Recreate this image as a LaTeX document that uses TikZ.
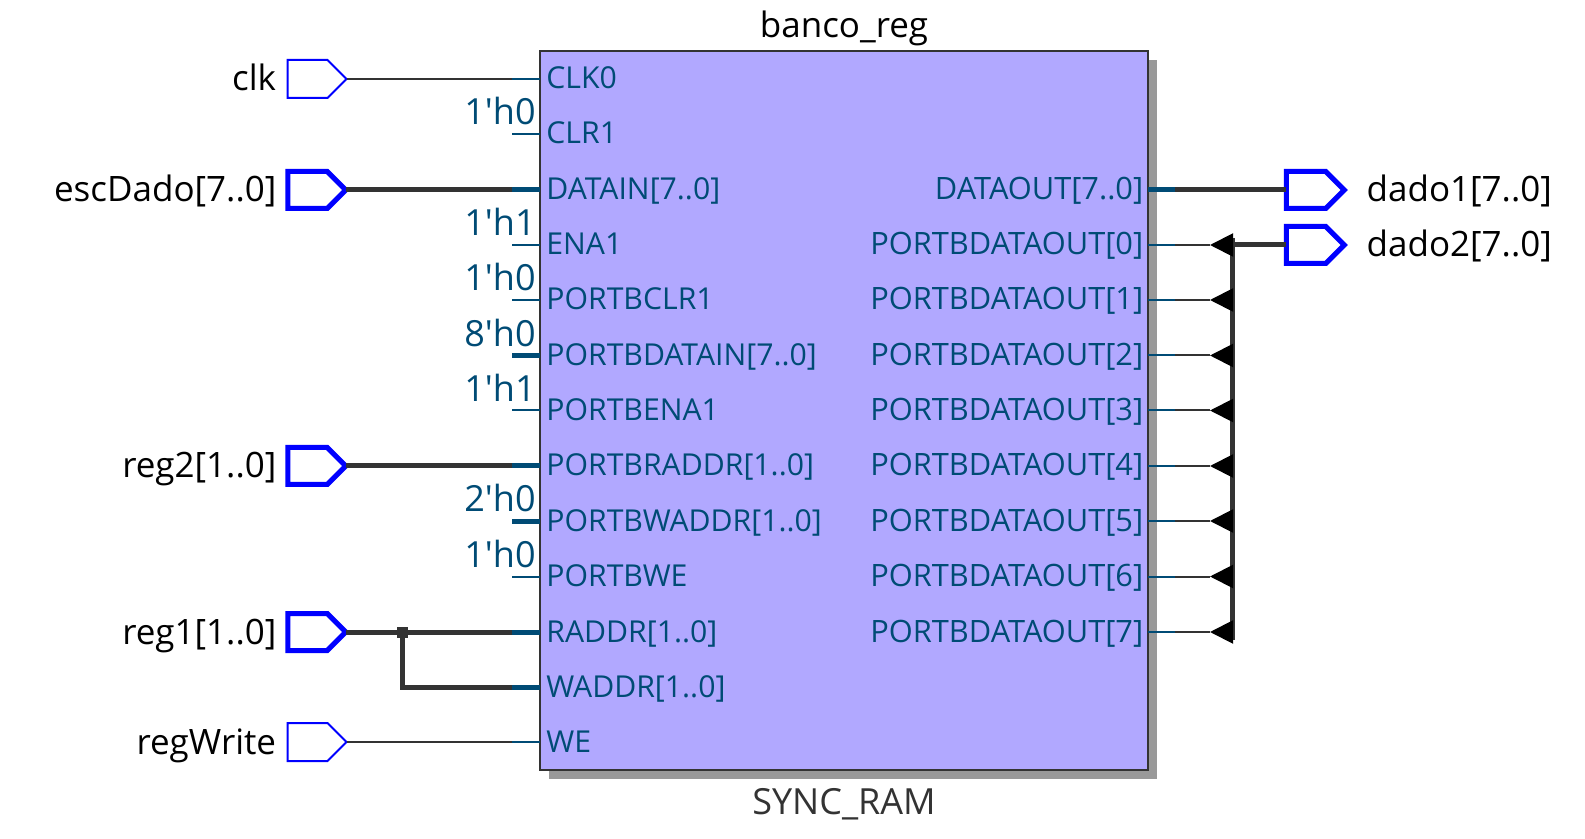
\documentclass[tikz,border=0pt]{standalone}
\usepackage{fontspec}
\setmainfont{Open Sans}
\usetikzlibrary{arrows.meta, positioning, shapes.symbols}

\definecolor{portcol}{HTML}{004B75}
\definecolor{wirecol}{HTML}{333333}
\definecolor{blockcol}{HTML}{B1A8FF}
\definecolor{shadowcol}{HTML}{999999}

\begin{document}
\begin{tikzpicture}[
  x=0.5pt, y=-0.5pt,
  node distance=5pt,
  block/.style={draw=wirecol, line width=1pt, fill=blockcol, rectangle, minimum width=304pt, minimum height=359.5pt, inner sep=0pt},
  shadowbox/.style={fill=shadowcol, draw=none, rectangle, minimum width=304pt, minimum height=359.5pt, inner sep=0pt},
  portin/.style={font=\fontsize{15.1}{17}\selectfont, text=portcol, anchor=west, inner xsep=3pt, inner ysep=0pt, text height=11pt, text depth=1pt},
  portout/.style={portin, font=\fontsize{15.4}{17}\selectfont, anchor=east, inner xsep=2.2pt},
  constval/.style={font=\fontsize{18}{20}\selectfont, text=portcol, anchor=base east, inner sep=0pt},
  pinlabel/.style={font=\fontsize{17.5}{19}\selectfont, text=black, inner sep=0pt, text height=15pt, text depth=3pt},
  pinthin/.style={draw=blue, line width=1pt, fill=white, shape=signal, signal to=east, signal pointer angle=90, minimum width=29.5pt, minimum height=19pt, inner sep=0pt, outer sep=0pt},
  pinbus/.style={pinthin, line width=2.5pt, minimum width=29pt, minimum height=18.5pt},
  wire/.style={draw=wirecol, line width=1pt},
  bus/.style={draw=wirecol, line width=2.5pt},
  stub/.style={draw=portcol, line width=1pt},
  stubbus/.style={draw=portcol, line width=2.5pt},
  tap/.style={wire, -{Triangle[length=11.5pt, width=11.5pt, color=black]}}
]
\useasboundingbox (0,0) rectangle (1585,839);

% Block
\node[shadowbox] (shade) at (853,419.5) {};
\node[block] (ram) at (844,410.5) {};
\node[font=\fontsize{17.5}{19}\selectfont, inner sep=0pt] (title) at (844,28) {banco\_reg};
\node[font=\fontsize{18}{20}\selectfont, text=wirecol, inner sep=0pt] (kind) at (844,804) {SYNC\_RAM};

% Left ports
\foreach \name/\txt/\row in {clk/CLK0/79, clr/CLR1/134, datain/{DATAIN[7..0]}/190, ena/ENA1/245, bclr/PORTBCLR1/300, bdatain/{PORTBDATAIN[7..0]}/355.5, bena/PORTBENA1/410.5, braddr/{PORTBRADDR[1..0]}/466, bwaddr/{PORTBWADDR[1..0]}/521, bwe/PORTBWE/576.5, raddr/{RADDR[1..0]}/632, waddr/{WADDR[1..0]}/687, we/WE/742} {
  \node[portin] (\name) at (540,\row) {\txt};
  \coordinate (\name-s) at (512,\row);
}

% Right ports
\node[portout] (dataout) at (1148,190) {DATAOUT[7..0]};
\coordinate (dataout-s) at (1175,190);
\foreach \i/\row in {0/245, 1/300, 2/355.5, 3/410.5, 4/466, 5/521, 6/576.5, 7/632} {
  \node[portout] (pb\i) at (1148,\row) {PORTBDATAOUT[\i]};
  \coordinate (pb\i-s) at (1175,\row);
  \coordinate (pb\i-t) at (1210,\row);
  \coordinate (pb\i-b) at (1233,\row);
}

% Constants
\foreach \port/\kind in {clr/stub, ena/stub, bclr/stub, bdatain/stubbus, bena/stub, bwaddr/stubbus, bwe/stub} {
  \draw[\kind] (\port-s) -- (\port.west);
}
\node[constval] (c-clr) at ([xshift=12pt,yshift=4.7pt]clr-s) {1\textquotesingle h0};
\node[constval] (c-ena) at ([xshift=12pt,yshift=4.7pt]ena-s) {1\textquotesingle h1};
\node[constval] (c-bclr) at ([xshift=12pt,yshift=4.7pt]bclr-s) {1\textquotesingle h0};
\node[constval] (c-bdatain) at ([xshift=12pt,yshift=4.7pt]bdatain-s) {8\textquotesingle h0};
\node[constval] (c-bena) at ([xshift=12pt,yshift=4.7pt]bena-s) {1\textquotesingle h1};
\node[constval] (c-bwaddr) at ([xshift=12pt,yshift=4.7pt]bwaddr-s) {2\textquotesingle h0};
\node[constval] (c-bwe) at ([xshift=12pt,yshift=4.7pt]bwe-s) {1\textquotesingle h0};

% Input pins
\node[pinthin] (pin-clk) at (307.5,79) {};
\node[pinbus] (pin-esc) at (307.5,190) {};
\node[pinbus] (pin-reg2) at (307.5,466) {};
\node[pinbus] (pin-reg1) at (307.5,632) {};
\node[pinthin] (pin-we) at (307.5,742) {};
\node[pinlabel, left=5.5pt of pin-clk] (l-clk) {clk};
\node[pinlabel, left=5.5pt of pin-esc] (l-esc) {escDado[7..0]};
\node[pinlabel, left=5.5pt of pin-reg2] (l-reg2) {reg2[1..0]};
\node[pinlabel, left=5.5pt of pin-reg1] (l-reg1) {reg1[1..0]};
\node[pinlabel, left=5.5pt of pin-we] (l-we) {regWrite};

% Output pins
\node[pinbus] (pin-d1) at (1306,190) {};
\node[pinbus] (pin-d2) at (1306,245) {};
\node[pinlabel, right=11pt of pin-d1] (l-d1) {dado1[7..0]};
\node[pinlabel, right=11pt of pin-d2] (l-d2) {dado2[7..0]};

% Wires
\draw[wire] (pin-clk.east) -- (clk-s);
\draw[stub] (clk-s) -- (clk.west);
\draw[wire] (pin-we.east) -- (we-s);
\draw[stub] (we-s) -- (we.west);
\draw[bus] (pin-esc.east) -- (datain-s);
\draw[stubbus] (datain-s) -- (datain.west);
\draw[bus] (pin-reg2.east) -- (braddr-s);
\draw[stubbus] (braddr-s) -- (braddr.west);
\draw[bus] (pin-reg1.east) -- (raddr-s);
\draw[stubbus] (raddr-s) -- (raddr.west);
\node[fill=wirecol, inner sep=0pt, minimum size=5.5pt] (jct) at (402,632) {};
\draw[bus] (jct.center) |- (waddr-s);
\draw[stubbus] (waddr-s) -- (waddr.west);
\draw[bus] (dataout-s) -- (pin-d1.west);
\draw[stubbus] (dataout.east) -- (dataout-s);

% Output bus
\coordinate (bus-top) at (1232,238);
\coordinate (bus-end) at (1232,640);
\draw[bus] (bus-top) -- (bus-end);
\draw[bus] (pb0-b) -- (pin-d2.west);
\foreach \i in {0,...,7} {
  \draw[tap] (pb\i-b) -- (pb\i-t);
  \draw[wire] (pb\i-s) -- (pb\i-t);
  \draw[stub] (pb\i.east) -- (pb\i-s);
}

\end{tikzpicture}
\end{document}
